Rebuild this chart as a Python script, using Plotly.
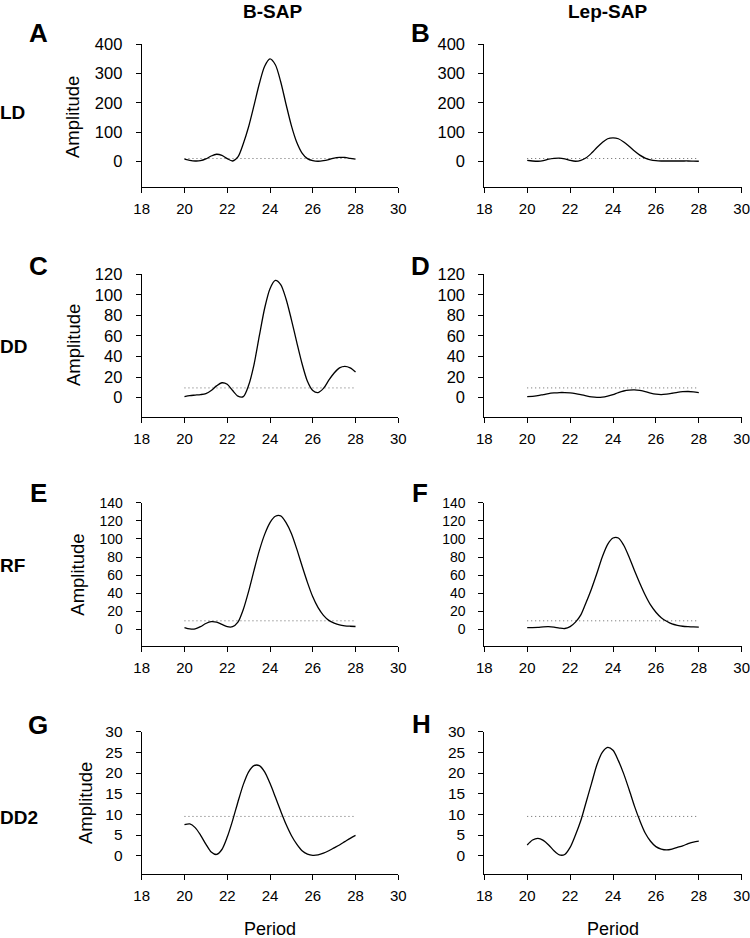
import plotly.graph_objects as go

# ---- data ----
period = [20, 20.25, 20.5, 20.75, 21, 21.25, 21.5, 21.75, 22, 22.25, 22.5, 22.75,
          23, 23.25, 23.5, 23.75, 24, 24.25, 24.5, 24.75, 25, 25.25, 25.5, 25.75,
          26, 26.25, 26.5, 26.75, 27, 27.25, 27.5, 27.75, 28]

bsap_ld = [7, 3, 1, 2, 8, 18, 24, 20, 9, 1, 15, 60, 118, 190, 265, 325, 350, 330, 272,
           195, 122, 65, 28, 9, 2, 0, 2, 6, 11, 13, 13, 10, 7]
lepsap_ld = [3, 1, 0, 2, 7, 10, 11, 8, 3, 0, 3, 12, 28, 47, 64, 77, 80, 77, 66, 51, 35,
             21, 11, 5, 2, 1, 1, 1, 1, 1, 1, 0.5, 0]
bsap_dd = [1, 2, 2.5, 3, 4, 7, 11.5, 14.5, 13, 7, 1.5, 1, 12, 32, 60, 87, 106, 114, 110,
           96, 76, 54, 33, 16, 7, 5, 9, 17, 24, 29, 30.5, 29, 25]
lepsap_dd = [1, 1.2, 2, 3, 4, 4.6, 5, 5, 4.7, 4, 3, 1.8, 0.8, 0.3, 0.5, 1.5, 3, 5, 6.5,
             7.3, 7.5, 7, 6, 4.5, 3.4, 3, 3.5, 4.3, 5.2, 5.8, 6, 5.7, 5]
bsap_rf = [2, 0.5, 0.5, 3, 6.5, 8.5, 8, 5.5, 3, 3, 8, 22, 42, 65, 87, 105, 118, 125,
           125.5, 118, 106, 89, 70, 52, 36, 24, 15.5, 10, 7, 5, 4, 3.5, 3.2]
lepsap_rf = [2, 2, 2.2, 2.8, 3, 2.5, 1.5, 1, 3, 8, 16, 30, 45, 62, 80, 94, 101, 101, 93,
             80, 65, 51, 38, 27, 19, 13, 9, 6, 4.5, 3.5, 3, 2.7, 2.6]
bsap_dd2 = [7.5, 7.7, 6.8, 5, 2.8, 0.9, 0.3, 1.5, 4.5, 8.5, 13, 17.2, 20.3, 21.8, 21.8,
            20.3, 17.5, 14.2, 10.8, 7.6, 4.9, 2.8, 1.2, 0.4, 0.1, 0.2, 0.6, 1.2, 1.9,
            2.6, 3.4, 4.2, 4.9]
lepsap_dd2 = [2.6, 3.8, 4.2, 3.7, 2.6, 1.2, 0.2, 0.3, 2, 5, 8.5, 13, 17.5, 22, 25, 26.2,
              25.5, 23, 19.8, 16, 12, 8.5, 5.5, 3.5, 2.2, 1.6, 1.4, 1.6, 2, 2.4, 2.9,
              3.3, 3.5]

threshold_period = [20, 28]
threshold = [9.5, 9.5]

col_titles = ["B-SAP", "Lep-SAP"]
row_titles = ["LD", "DD", "RF", "DD2"]
panel_letters = ["A", "B", "C", "D", "E", "F", "G", "H"]
x_ticks = [18, 20, 22, 24, 26, 28, 30]
y_ticks = [[0, 100, 200, 300, 400],
           [0, 20, 40, 60, 80, 100, 120],
           [0, 20, 40, 60, 80, 100, 120, 140],
           [0, 5, 10, 15, 20, 25, 30]]
y_ranges = [[-89, 400], [-18.5, 120], [-18, 140], [-4.5, 30]]

series = [[bsap_ld, lepsap_ld], [bsap_dd, lepsap_dd],
          [bsap_rf, lepsap_rf], [bsap_dd2, lepsap_dd2]]

# ---- layout geometry (pixels) ----
W, H = 750, 938
col_px = [(141.7, 398.3), (484.3, 741.7)]
row_px = [(44.3, 187.3), (274.3, 416.7), (502.7, 645.7), (731.7, 874.3)]
ytick_size = [16.5, 16.5, 14, 15.5]
FONT = "Liberation Sans, Arial, sans-serif"

fig = go.Figure()
layout = dict(template="none", width=W, height=H,
              margin=dict(l=0, r=0, t=0, b=0, pad=0, autoexpand=False),
              paper_bgcolor="white", plot_bgcolor="white", showlegend=False,
              font=dict(family=FONT, color="black"))
annotations = []

idx = 0
for r in range(4):
    for c in range(2):
        idx += 1
        xa = "xaxis" if idx == 1 else f"xaxis{idx}"
        ya = "yaxis" if idx == 1 else f"yaxis{idx}"
        xref = "x" if idx == 1 else f"x{idx}"
        yref = "y" if idx == 1 else f"y{idx}"
        x0, x1 = col_px[c]
        y0, y1 = row_px[r]
        layout[xa] = dict(domain=[x0 / W, x1 / W], range=[18, 30], anchor=yref,
                          automargin=False, ticklabeloverflow="allow",
                          showgrid=False, zeroline=False, showline=True,
                          linecolor="black", linewidth=1, ticks="outside",
                          ticklen=5, tickcolor="black", tickwidth=1,
                          tickvals=x_ticks, ticklabelstandoff=3,
                          tickfont=dict(size=15, family=FONT, color="black"))
        layout[ya] = dict(domain=[1 - y1 / H, 1 - y0 / H], range=y_ranges[r],
                          anchor=xref, automargin=False,
                          ticklabeloverflow="allow",
                          showgrid=False, zeroline=False,
                          showline=True, linecolor="black", linewidth=1,
                          ticks="outside", ticklen=5, tickcolor="black",
                          tickwidth=1, tickvals=y_ticks[r], ticklabelstandoff=10,
                          tickfont=dict(size=ytick_size[r], family=FONT,
                                        color="black"))
        fig.add_trace(go.Scatter(x=threshold_period, y=threshold, mode="lines",
                                 line=dict(color="#666666", width=1,
                                           dash="1px,3px"),
                                 xaxis=xref, yaxis=yref, hoverinfo="skip"))
        fig.add_trace(go.Scatter(x=period, y=series[r][c], mode="lines",
                                 line=dict(color="black", width=1.3,
                                           shape="spline", smoothing=0.8),
                                 xaxis=xref, yaxis=yref))

# panel letters
letter_pos = [(38, 33), (420.5, 33.5), (38, 266), (420, 266),
              (38, 493), (420, 493), (38, 725), (421, 724)]
for L, (px, py) in zip(panel_letters, letter_pos):
    annotations.append(dict(text=f"<b>{L}</b>", x=px / W, y=1 - py / H,
                            xref="paper", yref="paper", showarrow=False,
                            xanchor="center", yanchor="middle",
                            font=dict(size=26, family=FONT, color="black")))

# column titles
for t, px in zip(col_titles, [272.7, 608]):
    annotations.append(dict(text=f"<b>{t}</b>", x=px / W, y=1 - 11 / H,
                            xref="paper", yref="paper", showarrow=False,
                            xanchor="center", yanchor="middle",
                            font=dict(size=19, family=FONT, color="black")))

# row titles
for t, py in zip(row_titles, [112, 346.7, 565, 817.5]):
    annotations.append(dict(text=f"<b>{t}</b>", x=0, y=1 - py / H,
                            xref="paper", yref="paper", showarrow=False,
                            xanchor="left", yanchor="middle", xshift=-2,
                            font=dict(size=19, family=FONT, color="black")))

# y-axis titles
for px, py in zip([73, 73, 76.7, 85], [117, 345, 575, 803]):
    annotations.append(dict(text="Amplitude", x=px / W, y=1 - py / H,
                            xref="paper", yref="paper", showarrow=False,
                            textangle=-90, xanchor="center", yanchor="middle",
                            font=dict(size=18.5, family=FONT, color="black")))

# x-axis titles
for px in [270, 613]:
    annotations.append(dict(text="Period", x=px / W, y=1 - 929 / H,
                            xref="paper", yref="paper", showarrow=False,
                            xanchor="center", yanchor="middle",
                            font=dict(size=18, family=FONT, color="black")))

layout["annotations"] = annotations
fig.update_layout(**layout)
fig.write_html("out.html", config={"displayModeBar": False},
               post_script="document.body.style.margin='0';"
                           "document.body.style.overflow='hidden';")
